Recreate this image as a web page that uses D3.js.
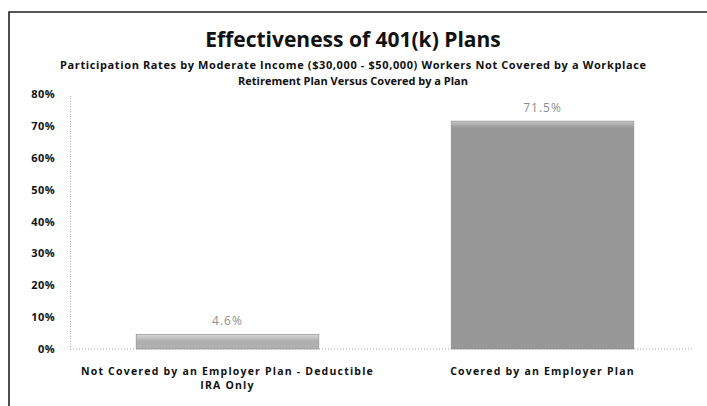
<!DOCTYPE html>
<html>
<head>
<meta charset="utf-8">
<script src="https://cdn.jsdelivr.net/npm/d3@7"></script>
<style>
  html, body { margin: 0; padding: 0; background: #fff; }
  svg { display: block; }
  text { font-family: "Open Sans", "Liberation Sans", sans-serif; }
</style>
</head>
<body>
<svg id="chart" width="707" height="406"></svg>
<script>
// Chart content
const titleText = "Effectiveness of 401(k) Plans";
const subtitleLines = [
  "Participation Rates by Moderate Income ($30,000 - $50,000) Workers Not Covered by a Workplace",
  "Retirement Plan Versus Covered by a Plan"
];
const subtitleWidths = [586, 230];
const categories = [
  ["Not Covered by an Employer Plan - Deductible", "IRA Only"],
  ["Covered by an Employer Plan"]
];
const values = [4.6, 71.5];
const valueLabels = ["4.6%", "71.5%"];
const yTicks = [0, 10, 20, 30, 40, 50, 60, 70, 80];

const svg = d3.select("#chart");
const W = 707, H = 406;
const plot = { left: 70, right: 700, top: 94, bottom: 349 };

// Outer frame (top and left edges visible)
svg.append("path")
  .attr("d", `M9,${H} V12 H${W}`)
  .attr("fill", "none")
  .attr("stroke", "#222")
  .attr("stroke-width", 1.6);

// Titles
svg.append("text")
  .attr("x", 353).attr("y", 47)
  .attr("text-anchor", "middle")
  .attr("font-size", 21).attr("font-weight", 700)
  .attr("fill", "#111")
  .text(titleText);

svg.selectAll("text.sub").data(subtitleLines).join("text")
  .attr("class", "sub")
  .attr("x", 353)
  .attr("y", (d, i) => 69 + i * 16)
  .attr("text-anchor", "middle")
  .attr("font-size", 11).attr("font-weight", 700)
  .attr("textLength", (d, i) => subtitleWidths[i])
  .attr("lengthAdjust", "spacing")
  .attr("fill", "#111")
  .text(d => d);

// Scales
const x = d3.scaleBand()
  .domain(d3.range(values.length))
  .range([plot.left, plot.right])
  .paddingInner(0.42)
  .paddingOuter(0.21);

const y = d3.scaleLinear()
  .domain([0, 80])
  .range([plot.bottom, plot.top]);

// Y axis
const yAxis = d3.axisLeft(y)
  .tickValues(yTicks)
  .tickSize(0)
  .tickPadding(15)
  .tickFormat(d => d + "%");

const yg = svg.append("g")
  .attr("transform", `translate(${plot.left},0)`)
  .call(yAxis);
yg.select(".domain")
  .attr("stroke", "#aaa")
  .attr("stroke-dasharray", "1,1.5");
yg.selectAll(".tick text")
  .attr("font-family", "'Open Sans', sans-serif")
  .attr("font-size", 11).attr("font-weight", 700)
  .attr("letter-spacing", 0.4)
  .attr("fill", "#111");

// Baseline
svg.append("line")
  .attr("x1", plot.left).attr("x2", 692)
  .attr("y1", y(0)).attr("y2", y(0))
  .attr("stroke", "#aaa")
  .attr("stroke-dasharray", "1,2");

// Bar gradients
const defs = svg.append("defs");
const fills = [["#d8d8d8", "#b0b0b0"], ["#c6c6c6", "#979797"]];
fills.forEach((c, i) => {
  const g = defs.append("linearGradient")
    .attr("id", "barGrad" + i)
    .attr("x1", 0).attr("y1", 0).attr("x2", 0).attr("y2", 1);
  g.append("stop").attr("offset", "0%").attr("stop-color", c[0]);
  g.append("stop").attr("offset", i === 0 ? "45%" : "3%").attr("stop-color", c[1]);
  g.append("stop").attr("offset", "100%").attr("stop-color", c[1]);
});

// Bars
svg.selectAll("rect.bar").data(values).join("rect")
  .attr("class", "bar")
  .attr("x", (d, i) => x(i))
  .attr("y", d => y(d))
  .attr("width", x.bandwidth())
  .attr("height", d => y(0) - y(d))
  .attr("fill", (d, i) => `url(#barGrad${i})`)
  .attr("stroke", "#8a8a8a")
  .attr("stroke-width", 0.6);

// Value labels
svg.selectAll("text.val").data(values).join("text")
  .attr("class", "val")
  .attr("x", (d, i) => x(i) + x.bandwidth() / 2)
  .attr("y", d => y(d) - 9)
  .attr("text-anchor", "middle")
  .attr("font-family", "'DejaVu Serif', serif")
  .attr("font-size", 12)
  .attr("letter-spacing", 1)
  .attr("fill", "#8f8f8f")
  .text((d, i) => valueLabels[i]);

// Category labels
categories.forEach((lines, i) => {
  svg.append("text")
    .attr("x", x(i) + x.bandwidth() / 2)
    .attr("y", 375)
    .attr("text-anchor", "middle")
    .attr("font-size", 10.5).attr("font-weight", 700)
    .attr("letter-spacing", 1.2)
    .attr("fill", "#111")
    .selectAll("tspan").data(lines).join("tspan")
    .attr("x", x(i) + x.bandwidth() / 2)
    .attr("dy", (d, j) => j === 0 ? 0 : 14)
    .text(d => d);
});
</script>
</body>
</html>
